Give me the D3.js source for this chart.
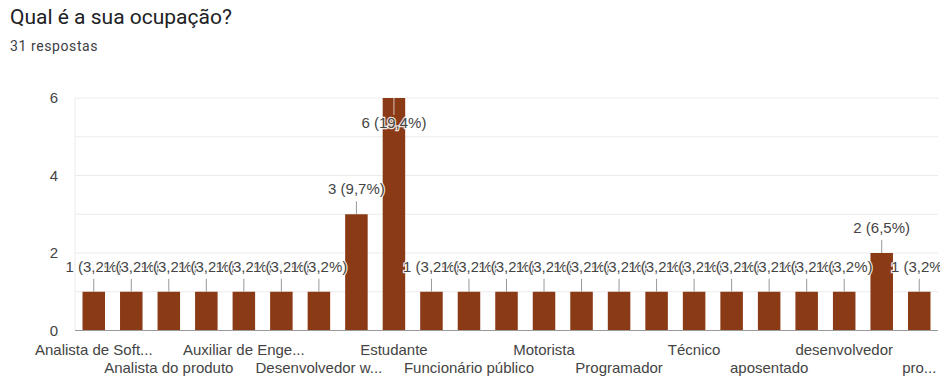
<!DOCTYPE html>
<html>
<head>
<meta charset="utf-8">
<script src="https://cdn.jsdelivr.net/npm/d3@7"></script>
<style>
  html, body { margin: 0; padding: 0; background: #fff; }
  svg { display: block; }
</style>
</head>
<body>
<svg id="chart" width="940" height="383"></svg>
<script>
// ---- data ----
const title = "Qual é a sua ocupação?";
const subtitle = "31 respostas";
const totalResponses = 31;
const categories = [
  "Analista de Software", "Analista de Testes", "Analista do produto",
  "Assistente administrativo", "Auxiliar de Engenharia", "Desenvolvedor",
  "Desenvolvedor web", "Engenheiro", "Estudante", "Freelancer",
  "Funcionário público", "Gerente de projetos", "Motorista", "Professor",
  "Programador", "Suporte técnico", "Técnico", "Vendedor", "aposentado",
  "autônomo", "desenvolvedor", "engenheiro", "professor"
];
const displayNames = [
  "Analista de Soft...", "", "Analista do produto", "", "Auxiliar de Enge...", "",
  "Desenvolvedor w...", "", "Estudante", "", "Funcionário público", "",
  "Motorista", "", "Programador", "", "Técnico", "", "aposentado", "",
  "desenvolvedor", "", "pro..."
];
const values = [1,1,1,1,1,1,1,3,6,1,1,1,1,1,1,1,1,1,1,1,1,2,1];
const yTicks = [0, 2, 4, 6];
const yGrid = [1, 2, 3, 4, 5, 6];

// ---- layout ----
const svg = d3.select("#chart");
const plot = { left: 75, right: 938, top: 98, bottom: 330.5 };
const barColor = "#8b3a16";
const chartFont = "'Liberation Sans', Arial, sans-serif";

svg.append("text")
  .attr("x", 10).attr("y", 24)
  .attr("font-family", "Roboto, Arial, sans-serif")
  .attr("font-size", 21)
  .attr("fill", "#202124")
  .text(title);

svg.append("text")
  .attr("x", 10).attr("y", 51)
  .attr("font-family", "Roboto, Arial, sans-serif")
  .attr("font-size", 14)
  .attr("letter-spacing", 0.6)
  .attr("fill", "#3c4043")
  .text(subtitle);

const x = d3.scaleBand()
  .domain(categories)
  .range([plot.left, plot.right])
  .paddingInner(0.4)
  .paddingOuter(0.2);

const y = d3.scaleLinear()
  .domain([0, 6])
  .range([plot.bottom, plot.top]);

// gridlines
svg.append("g")
  .selectAll("line")
  .data(yGrid)
  .join("line")
  .attr("x1", plot.left).attr("x2", plot.right)
  .attr("y1", d => y(d)).attr("y2", d => y(d))
  .attr("stroke", "#ebebeb").attr("stroke-width", 1);

// left vertical line
svg.append("line")
  .attr("x1", plot.left).attr("x2", plot.left)
  .attr("y1", plot.top).attr("y2", plot.bottom)
  .attr("stroke", "#ebebeb");

// y axis labels
const yAxis = d3.axisLeft(y).tickValues(yTicks).tickSize(0).tickPadding(17)
  .tickFormat(d3.format("d"));
const gy = svg.append("g").attr("transform", `translate(${plot.left},0)`).call(yAxis);
gy.select(".domain").remove();
gy.selectAll("text")
  .attr("font-family", chartFont)
  .attr("font-size", 15)
  .attr("fill", "#444");

// bars
svg.append("g")
  .selectAll("rect")
  .data(categories)
  .join("rect")
  .attr("x", d => x(d))
  .attr("width", x.bandwidth())
  .attr("y", (d, i) => y(values[i]))
  .attr("height", (d, i) => y(0) - y(values[i]))
  .attr("fill", barColor);

// baseline
svg.append("line")
  .attr("x1", plot.left).attr("x2", plot.right)
  .attr("y1", y(0)).attr("y2", y(0))
  .attr("stroke", "#999").attr("stroke-width", 1.2);

// x axis labels
const xAxis = d3.axisBottom(x)
  .tickValues(categories.filter((d, i) => i % 2 === 0))
  .tickSize(0)
  .tickFormat(d => displayNames[categories.indexOf(d)]);
const gx = svg.append("g").attr("transform", `translate(0,${y(0)})`).call(xAxis);
gx.select(".domain").remove();
gx.selectAll("text")
  .attr("font-family", chartFont)
  .attr("font-size", 15)
  .attr("fill", "#444")
  .attr("dy", null)
  .attr("y", d => (categories.indexOf(d) / 2) % 2 === 0 ? 24.5 : 42.5);

// annotations
const maxV = d3.max(values);
const fmtPct = v => (v / totalResponses * 100).toFixed(1).replace(".", ",");
const ann = svg.append("g");
categories.forEach((c, i) => {
  const v = values[i];
  const cx = x(c) + x.bandwidth() / 2;
  const top = y(v);
  const inside = v === maxV;
  const stemEnd = inside ? top + 17 : top - 13;
  ann.append("line")
    .attr("x1", cx).attr("x2", cx)
    .attr("y1", top).attr("y2", stemEnd)
    .attr("stroke", inside ? "#d9c3b8" : "#999")
    .attr("stroke-width", 1);
});
categories.forEach((c, i) => {
  const v = values[i];
  const cx = x(c) + x.bandwidth() / 2;
  const top = y(v);
  const inside = v === maxV;
  const labelCenter = inside ? top + 25 : top - 25;
  ann.append("text")
    .attr("x", cx).attr("y", labelCenter + 5)
    .attr("text-anchor", "middle")
    .attr("font-family", chartFont)
    .attr("font-size", 15)
    .attr("fill", "#444")
    .attr("stroke", "#fff")
    .attr("stroke-width", 2.5)
    .attr("stroke-opacity", 0.85)
    .attr("paint-order", "stroke")
    .text(`${v} (${fmtPct(v)}%)`);
});
</script>
</body>
</html>
